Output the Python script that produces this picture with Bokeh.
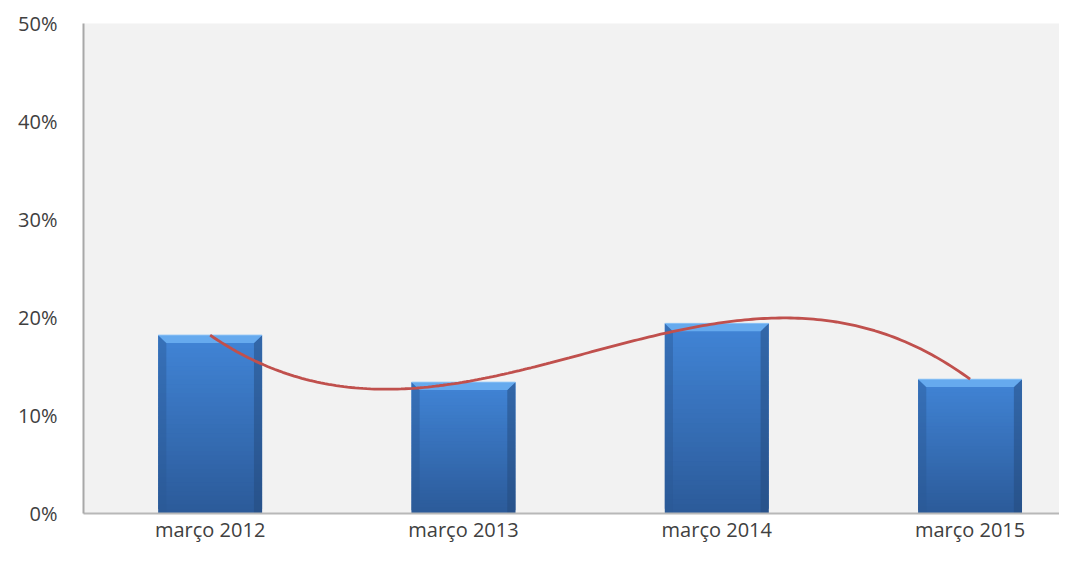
import numpy as np
from bokeh.plotting import figure
from bokeh.models import Range1d, FixedTicker
from bokeh.embed import file_html
from bokeh.resources import INLINE

categories = ["março 2012", "março 2013", "março 2014", "março 2015"]
values = [18.2, 13.4, 19.4, 13.7]          # percent
y_ticks = [0, 10, 20, 30, 40, 50]
y_tick_labels = ["0%", "10%", "20%", "30%", "40%", "50%"]

FONT = "Open Sans"
TXT = "#404040"

x = np.arange(len(categories))
vals = np.array(values, dtype=float)

p = figure(width=1059, height=545, output_backend="svg", toolbar_location=None,
           x_range=Range1d(-0.5, 3.353), y_range=Range1d(0, 50),
           min_border_left=83, min_border_right=0, min_border_top=23, min_border_bottom=32)
p.background_fill_color = "#f2f2f2"
p.border_fill_color = "white"
p.outline_line_color = None
p.grid.grid_line_color = None

# bars: vertical gradient built from overlapping slices
bw = 0.41
n = 40
c_bot = np.array([0x2c, 0x5b, 0x9a])
c_top = np.array([0x42, 0x86, 0xd8])
for xi, v in zip(x, vals):
    fr = np.arange(n) / n
    bottoms = v * fr
    tops = np.minimum(v * (fr + 2.0 / n), v)
    cols = []
    for f in fr:
        c = (c_bot + (c_top - c_bot) * f).astype(int)
        cols.append("#%02x%02x%02x" % tuple(c))
    p.quad(left=[xi - bw / 2] * n, right=[xi + bw / 2] * n, bottom=bottoms, top=tops,
           fill_color=cols, line_color=None)
    bx, by = 0.032, 0.8
    # side shading
    p.patch([xi - bw / 2, xi - bw / 2 + bx, xi - bw / 2 + bx, xi - bw / 2],
            [0, 0, v - by, v], fill_color="#2a5894", fill_alpha=0.45, line_color=None)
    p.patch([xi + bw / 2, xi + bw / 2 - bx, xi + bw / 2 - bx, xi + bw / 2],
            [0, 0, v - by, v], fill_color="#24497c", fill_alpha=0.5, line_color=None)
    # top bevel
    p.patch([xi - bw / 2, xi + bw / 2, xi + bw / 2 - bx, xi - bw / 2 + bx],
            [v, v, v - by, v - by], fill_color="#66aaee", line_color=None)
    p.line([xi - bw / 2, xi + bw / 2], [v, v], line_color="#8cc4f7", line_width=1)

# cubic polynomial trend line through the values
coef = np.polyfit(x, vals, 3)
xs = np.linspace(x[0], x[-1], 200)
p.line(xs, np.polyval(coef, xs), line_color="#c0504d", line_width=2.8)

# axes
p.yaxis.ticker = FixedTicker(ticks=y_ticks)
p.yaxis.major_label_overrides = {t: l for t, l in zip(y_ticks, y_tick_labels)}
p.yaxis.major_tick_line_color = None
p.yaxis.minor_tick_line_color = None
p.yaxis.axis_line_color = "#a8a8a8"
p.yaxis.axis_line_width = 2
p.yaxis.major_label_standoff = 20
p.xaxis.ticker = FixedTicker(ticks=list(x))
p.xaxis.major_label_overrides = {int(i): c for i, c in zip(x, categories)}
p.xaxis.major_tick_line_color = None
p.xaxis.minor_tick_line_color = None
p.xaxis.major_tick_out = 0
p.xaxis.major_tick_in = 0
p.xaxis.axis_line_color = "#b8b8b8"
p.xaxis.axis_line_width = 2
p.xaxis.major_label_standoff = 2
for ax in (p.xaxis, p.yaxis):
    ax.major_label_text_font = FONT
    ax.major_label_text_font_size = "20px"
    ax.major_label_text_color = TXT

open("out.html", "w").write(file_html(p, INLINE))
